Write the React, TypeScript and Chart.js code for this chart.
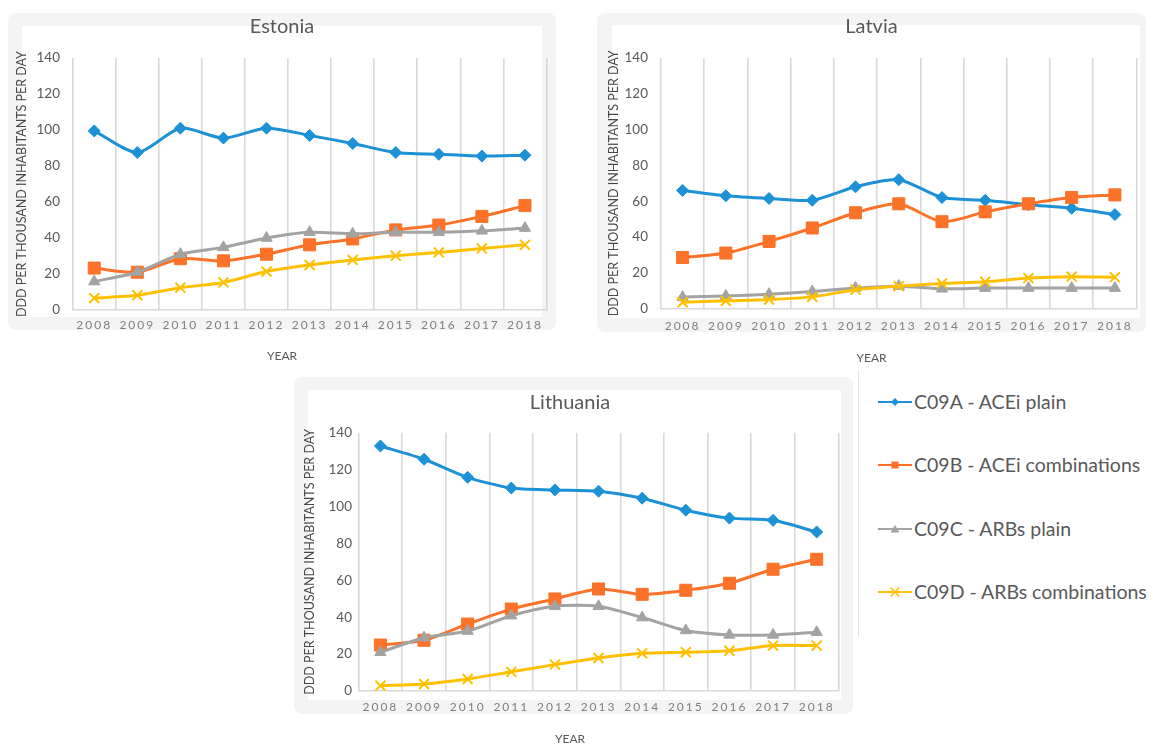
import React, { useEffect, useRef } from 'react';
import { Chart, registerables } from 'chart.js';

Chart.register(...registerables);

// ---------------- DATA ----------------
const YEARS = ['2008', '2009', '2010', '2011', '2012', '2013', '2014', '2015', '2016', '2017', '2018'];
const SERIES_LABELS = ['C09A - ACEi plain', 'C09B - ACEi combinations', 'C09C - ARBs plain', 'C09D - ARBs combinations'];
const Y_MIN = 0;
const Y_MAX = 140;
const Y_STEP = 20;
const X_TITLE = 'YEAR';
const Y_TITLE = 'DDD PER THOUSAND INHABITANTS PER DAY';

const ESTONIA_C09A = [99.5, 87.5, 101, 95.5, 101, 97, 92.5, 87.5, 86.5, 85.5, 86];
const ESTONIA_C09B = [23.3, 21, 28.5, 27.3, 31, 36.2, 39.5, 44.5, 47.2, 52, 58];
const ESTONIA_C09C = [15.8, 21, 31, 34.8, 40, 43.2, 42.3, 43.2, 43.2, 44, 45.5];
const ESTONIA_C09D = [6.6, 8.2, 12.4, 15.3, 21.4, 25, 27.8, 30.2, 32, 34.2, 36.2];

const LATVIA_C09A = [66, 63, 61.5, 60.5, 68, 72, 62, 60.5, 58, 56, 52.5];
const LATVIA_C09B = [28.5, 31, 37.5, 45, 53.5, 58.5, 48.5, 54, 58.5, 62, 63.5];
const LATVIA_C09C = [6.4, 7, 8, 9.5, 11.5, 12.5, 11, 11.4, 11.4, 11.4, 11.4];
const LATVIA_C09D = [3.5, 4.3, 5, 6.5, 10.5, 12.5, 14, 15, 17, 17.8, 17.5];

const LITHUANIA_C09A = [132.8, 125.6, 115.8, 110, 109, 108.3, 104.5, 98, 93.7, 92.5, 86.2];
const LITHUANIA_C09B = [24.9, 27.5, 36.3, 44.4, 49.9, 55.3, 52.4, 54.6, 58.4, 66, 71.4];
const LITHUANIA_C09C = [21, 28.9, 32.5, 40.8, 45.9, 45.9, 39.8, 32.8, 30.4, 30.4, 31.9];
const LITHUANIA_C09D = [2.9, 3.8, 6.5, 10.4, 14.3, 17.9, 20.4, 21, 21.8, 24.6, 24.6];

// ---------------- STYLE ----------------
const COLORS = ['#1C91D6', '#FB7228', '#A3A3A3', '#FFC000'];
const FONT = 'Lato, "Open Sans", sans-serif';
const GRID = '#d9d9d9';

type Box = { left: number; top: number; right: number; bottom: number };
type Cfg = {
  name: string;
  series: number[][];
  canvas: { left: number; top: number; width: number; height: number };
  pad: number;
  plot: Box;
  titleCY: number;
  yTitleCX: number;
  yLabelRight: number;
  xLabelCY: number;
  yearCY: number;
  outer: Box;
  inner: Box;
};

const CHARTS: Cfg[] = [
  {
    name: 'Estonia',
    series: [ESTONIA_C09A, ESTONIA_C09B, ESTONIA_C09C, ESTONIA_C09D],
    canvas: { left: 8, top: 13, width: 548, height: 355 },
    pad: 5,
    plot: { left: 72.7, right: 551, top: 58, bottom: 310 },
    titleCY: 27,
    yTitleCX: 22,
    yLabelRight: 60,
    xLabelCY: 325.5,
    yearCY: 356,
    outer: { left: 8, top: 13, right: 556, bottom: 330 },
    inner: { left: 22, top: 26, right: 542, bottom: 317 },
  },
  {
    name: 'Latvia',
    series: [LATVIA_C09A, LATVIA_C09B, LATVIA_C09C, LATVIA_C09D],
    canvas: { left: 597, top: 13, width: 549, height: 355 },
    pad: 6,
    plot: { left: 661, right: 1140, top: 58, bottom: 308.5 },
    titleCY: 27,
    yTitleCX: 614,
    yLabelRight: 648,
    xLabelCY: 325.7,
    yearCY: 358,
    outer: { left: 597, top: 13, right: 1146, bottom: 332 },
    inner: { left: 612, top: 25, right: 1140, bottom: 318 },
  },
  {
    name: 'Lithuania',
    series: [LITHUANIA_C09A, LITHUANIA_C09B, LITHUANIA_C09C, LITHUANIA_C09D],
    canvas: { left: 292, top: 378, width: 556, height: 370 },
    pad: 3,
    plot: { left: 358.6, right: 845, top: 432.7, bottom: 691 },
    titleCY: 403,
    yTitleCX: 310,
    yLabelRight: 352,
    xLabelCY: 707,
    yearCY: 739,
    outer: { left: 294, top: 377, right: 853, bottom: 714 },
    inner: { left: 308, top: 390, right: 841, bottom: 700 },
  },
];

const POINT_STYLES: any[] = ['rectRot', 'rect', 'triangle', 'crossRot'];
const POINT_RADII = [6, 8.5, 6.5, 7];

const spacedTicks = {
  id: 'spacedTicks',
  beforeDraw(chart: any) {
    const s: any = chart.scales.x;
    if (s && !s.__spaced) {
      const orig = s.drawLabels.bind(s);
      s.drawLabels = (area: any) => {
        const ctx = s.ctx;
        ctx.save();
        ctx.letterSpacing = '2px';
        orig(area);
        ctx.restore();
      };
      s.__spaced = true;
    }
  },
};

function CountryChart({ cfg }: { cfg: Cfg }) {
  const ref = useRef<HTMLCanvasElement>(null);
  useEffect(() => {
    const c = cfg;
    const TLH = 20 * 1.2;
    const YT = 12.5;
    const SLH = 12 * 1.2;
    const HX = 28;
    const titlePadTop = c.titleCY - c.canvas.top - TLH / 2;
    const titlePadBottom = c.plot.top - c.canvas.top - titlePadTop - TLH;
    const subPadTop = c.yearCY - (c.plot.bottom + HX) - SLH / 2;
    const layoutBottom = c.canvas.top + c.canvas.height - (c.plot.bottom + HX + SLH + subPadTop);
    const yWidth = c.plot.left - c.canvas.left - c.pad;
    const yTitlePad = c.yTitleCX - c.canvas.left - c.pad - (YT * 1.2) / 2;

    const datasets = c.series.map((vals, i) => ({
      label: SERIES_LABELS[i],
      data: vals,
      borderColor: COLORS[i],
      backgroundColor: COLORS[i],
      pointBackgroundColor: COLORS[i],
      pointBorderColor: COLORS[i],
      pointStyle: POINT_STYLES[i],
      pointRadius: POINT_RADII[i],
      pointBorderWidth: i === 3 ? 2 : 1,
      borderWidth: 3,
      tension: 0.25,
      order: 3 - i,
    }));

    const chart = new Chart(ref.current as HTMLCanvasElement, {
      type: 'line',
      data: { labels: YEARS, datasets },
      plugins: [spacedTicks],
      options: {
        animation: false,
        responsive: true,
        maintainAspectRatio: false,
        layout: { padding: { left: c.pad, right: c.pad, top: 0, bottom: layoutBottom } },
        plugins: {
          legend: { display: false },
          tooltip: { enabled: false },
          title: {
            display: true,
            text: c.name,
            color: '#595959',
            font: { family: FONT, size: 20, weight: 'normal' },
            padding: { top: titlePadTop, bottom: titlePadBottom },
          },
          subtitle: {
            display: true,
            position: 'bottom',
            text: X_TITLE,
            color: '#595959',
            font: { family: FONT, size: 12, weight: 'normal' },
            padding: { top: subPadTop, bottom: 0 },
          },
        },
        scales: {
          x: {
            type: 'category',
            offset: true,
            grid: { display: true, offset: true, color: GRID, lineWidth: 1.6, drawTicks: false },
            border: { display: true, color: GRID, width: 1.6 },
            ticks: {
              color: '#7f7f7f',
              font: { family: FONT, size: 12 },
              padding: c.xLabelCY - c.plot.bottom - SLH / 2,
              maxRotation: 0,
              autoSkip: false,
            },
            afterFit: (s: any) => {
              s.height = HX;
            },
          },
          y: {
            min: Y_MIN,
            max: Y_MAX,
            grid: { display: false, drawTicks: false },
            border: { display: false },
            ticks: {
              stepSize: Y_STEP,
              color: '#595959',
              font: { family: FONT, size: 13.5 },
              padding: c.plot.left - c.yLabelRight,
            },
            title: {
              display: true,
              text: Y_TITLE,
              color: '#484848',
              font: { family: FONT, size: YT, weight: 'normal' },
              padding: { top: yTitlePad, bottom: 0 },
            },
            afterFit: (s: any) => {
              s.width = yWidth;
            },
          },
        },
      },
    } as any);
    return () => chart.destroy();
  }, [cfg]);

  const o = cfg.outer;
  const n = cfg.inner;
  return (
    <>
      <div
        style={{
          position: 'absolute',
          left: o.left,
          top: o.top,
          width: o.right - o.left,
          height: o.bottom - o.top,
          background: '#f4f4f4',
          borderRadius: 8,
        }}
      />
      <div
        style={{
          position: 'absolute',
          left: n.left,
          top: n.top,
          width: n.right - n.left,
          height: n.bottom - n.top,
          background: '#ffffff',
        }}
      />
      <div
        style={{
          position: 'absolute',
          left: cfg.canvas.left,
          top: cfg.canvas.top,
          width: cfg.canvas.width,
          height: cfg.canvas.height,
        }}
      >
        <canvas ref={ref} />
      </div>
    </>
  );
}

function Marker({ i }: { i: number }) {
  const col = COLORS[i];
  let shape: React.ReactNode = null;
  if (i === 0) shape = <polygon points="17,4 21,8 17,12 13,8" fill={col} />;
  if (i === 1) shape = <rect x={13.5} y={4.5} width={7} height={7} fill={col} />;
  if (i === 2) shape = <polygon points="17,4 21.5,11.5 12.5,11.5" fill={col} />;
  if (i === 3)
    shape = (
      <g stroke={col} strokeWidth={1.5}>
        <line x1={12.5} y1={3.5} x2={21.5} y2={12.5} />
        <line x1={12.5} y1={12.5} x2={21.5} y2={3.5} />
      </g>
    );
  return (
    <svg width={34} height={16} style={{ display: 'block' }}>
      <line x1={0} y1={8} x2={34} y2={8} stroke={col} strokeWidth={2.2} />
      {shape}
    </svg>
  );
}

const LEGEND_Y = [401.5, 465, 529, 592];

function Legend() {
  return (
    <>
      <div
        style={{
          position: 'absolute',
          left: 858,
          top: 370,
          width: 0,
          height: 267,
          borderLeft: '1px solid #e3e3e3',
        }}
      />
      {SERIES_LABELS.map((lab, i) => (
        <div
          key={lab}
          style={{
            position: 'absolute',
            left: 878,
            top: LEGEND_Y[i] - 13,
            height: 26,
            display: 'flex',
            alignItems: 'center',
            whiteSpace: 'nowrap',
          }}
        >
          <Marker i={i} />
          <span
            style={{
              marginLeft: 2,
              fontFamily: FONT,
              fontSize: 19.5,
              color: '#595959',
              lineHeight: '26px',
            }}
          >
            {lab}
          </span>
        </div>
      ))}
    </>
  );
}

export default function App() {
  return (
    <div
      style={{
        position: 'absolute',
        left: 0,
        top: 0,
        width: 1153,
        height: 744,
        overflow: 'hidden',
        background: '#ffffff',
      }}
    >
      {CHARTS.map((c) => (
        <CountryChart key={c.name} cfg={c} />
      ))}
      <Legend />
    </div>
  );
}
